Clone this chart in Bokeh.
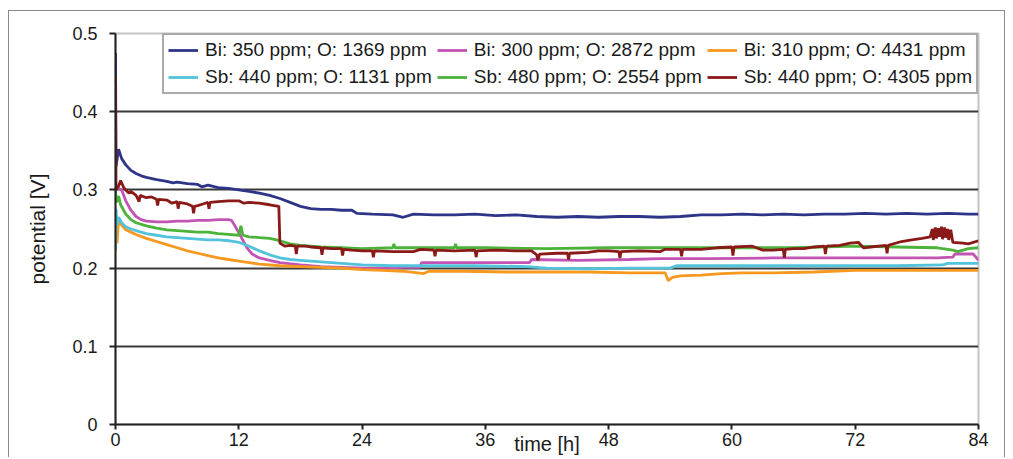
from bokeh.plotting import figure
from bokeh.models import (Range1d, FixedTicker, Legend, LegendItem, ColumnDataSource)
from bokeh.embed import file_html
from bokeh.resources import INLINE

# ---------------- data ----------------
x_ticks = [0, 12, 24, 36, 48, 60, 72, 84]
y_ticks = [0, 0.1, 0.2, 0.3, 0.4, 0.5]
y_tick_labels = ["0", "0.1", "0.2", "0.3", "0.4", "0.5"]

labels = ["Bi: 350 ppm; O: 1369 ppm", "Bi: 300 ppm; O: 2872 ppm", "Bi: 310 ppm; O: 4431 ppm",
          "Sb: 440 ppm; O: 1131 ppm", "Sb: 480 ppm; O: 2554 ppm", "Sb: 440 ppm; O: 4305 ppm"]
colors = ["#2e3588", "#c254b4", "#f7981f", "#52c3da", "#4bb33a", "#8a1a17"]

bi350_t = [0, 0.05, 0.3, 0.6, 1.0, 1.5, 2, 2.5, 3, 4, 5, 5.6, 6, 7, 8, 8.4, 9, 10, 11, 12, 13, 14, 15,
           16, 17, 18, 19, 20, 21, 22, 23, 23.5, 25, 27, 28, 29, 31, 33, 35, 37, 39, 41, 43, 45, 47, 49,
           51, 53, 55, 57, 59, 61, 63, 65, 67, 69, 71, 73, 75, 77, 79, 81, 83, 84]
bi350_v = [0.475, 0.33, 0.352, 0.340, 0.332, 0.325, 0.321, 0.318, 0.316, 0.313, 0.311, 0.309, 0.310,
           0.308, 0.307, 0.304, 0.306, 0.303, 0.302, 0.300, 0.298, 0.296, 0.293, 0.289, 0.284, 0.279,
           0.276, 0.275, 0.275, 0.274, 0.274, 0.270, 0.269, 0.268, 0.265, 0.269, 0.268, 0.268, 0.269,
           0.267, 0.268, 0.266, 0.265, 0.266, 0.265, 0.266, 0.266, 0.265, 0.266, 0.268, 0.268, 0.269,
           0.268, 0.269, 0.268, 0.269, 0.269, 0.270, 0.269, 0.270, 0.269, 0.270, 0.269, 0.269]

bi300_t = [0.3, 0.6, 1, 1.5, 2, 2.5, 3, 4, 5, 6, 7, 8, 9, 10, 11, 11.3, 11.8, 12.3, 12.8, 13.3, 14, 15,
           16, 18, 20, 22, 24, 26, 28, 29.6, 29.8, 33, 36, 40.3, 40.5, 45, 50, 53, 58, 64, 70, 76, 80,
           81.5, 81.7, 83.5, 84]
bi300_v = [0.302, 0.300, 0.286, 0.274, 0.266, 0.262, 0.260, 0.259, 0.259, 0.260, 0.260, 0.261, 0.261,
           0.262, 0.262, 0.261, 0.250, 0.238, 0.226, 0.218, 0.213, 0.210, 0.207, 0.204, 0.202, 0.201,
           0.200, 0.200, 0.201, 0.201, 0.207, 0.207, 0.207, 0.207, 0.211, 0.210, 0.211, 0.212, 0.212,
           0.213, 0.213, 0.213, 0.213, 0.214, 0.218, 0.218, 0.210]

bi310_t = [0, 0.05, 0.15, 0.3, 0.6, 1, 1.5, 2, 3, 4, 5, 6, 7, 8, 9, 10, 11, 12, 13, 14, 16, 18, 20, 22,
           24, 26, 28, 30, 30.5, 34, 38, 42, 46, 50, 53.5, 53.8, 54.2, 55, 57, 59, 61, 64, 68, 72, 76,
           80, 84]
bi310_v = [0.222, 0.245, 0.232, 0.261, 0.255, 0.249, 0.246, 0.243, 0.238, 0.234, 0.230, 0.226, 0.222,
           0.219, 0.216, 0.213, 0.211, 0.209, 0.207, 0.205, 0.203, 0.202, 0.201, 0.200, 0.198, 0.197,
           0.196, 0.193, 0.196, 0.196, 0.195, 0.195, 0.195, 0.194, 0.194, 0.184, 0.188, 0.190, 0.191,
           0.193, 0.194, 0.194, 0.195, 0.197, 0.197, 0.197, 0.197]

sb440a_t = [0, 0.05, 0.15, 0.3, 0.6, 1, 1.5, 2, 3, 4, 5, 6, 7, 8, 9, 10, 11, 12, 13, 14, 15, 16, 17, 18,
            20, 22, 24, 27, 30, 35, 40, 42, 46, 50, 54, 54.6, 58, 64, 70, 76, 80.5, 81, 84]
sb440a_v = [0.225, 0.276, 0.255, 0.265, 0.258, 0.253, 0.250, 0.248, 0.244, 0.242, 0.240, 0.239, 0.238,
            0.237, 0.236, 0.236, 0.235, 0.233, 0.228, 0.222, 0.217, 0.213, 0.211, 0.210, 0.208, 0.206,
            0.204, 0.203, 0.203, 0.203, 0.202, 0.200, 0.199, 0.200, 0.200, 0.203, 0.203, 0.203, 0.203,
            0.203, 0.204, 0.206, 0.206]

sb480_t = [0, 0.1, 0.3, 0.5, 1, 1.5, 2, 3, 4, 5, 6, 7, 8, 9, 10, 11, 12, 12.2, 12.4, 13, 14, 15, 16, 17,
           18, 20, 22, 24, 27, 27.1, 27.2, 30, 33, 33.1, 33.2, 36, 42, 48, 54, 60, 66, 72, 76, 80, 81.5,
           82, 83, 84]
sb480_v = [0.300, 0.284, 0.292, 0.281, 0.269, 0.262, 0.258, 0.254, 0.251, 0.249, 0.248, 0.247, 0.246,
           0.246, 0.244, 0.243, 0.242, 0.254, 0.242, 0.240, 0.239, 0.238, 0.235, 0.231, 0.229, 0.227,
           0.226, 0.225, 0.226, 0.231, 0.226, 0.226, 0.226, 0.231, 0.226, 0.226, 0.225, 0.226, 0.226,
           0.226, 0.226, 0.228, 0.227, 0.226, 0.223, 0.221, 0.225, 0.226]

sb440b_t = [0, 0.05, 0.3, 0.5, 0.8, 1, 1.3, 1.5, 2, 2.3, 2.4, 3, 3.5, 4, 4.1, 4.2, 5, 5.5, 6, 6.1, 6.2,
            7, 7.5, 7.6, 7.7, 8, 8.5, 9, 9.1, 9.2, 10, 11, 12, 12.5, 13, 14, 15, 15.9, 16.0, 16.5, 17,
            17.5, 17.6, 17.7, 18.5, 19, 20, 20.1, 20.2, 21, 22, 22.1, 22.2, 23, 24, 25, 25.1, 25.2, 27,
            29, 29.7, 31, 31.1, 31.2, 33, 35, 35.1, 35.2, 37, 39, 40.5, 41, 41.1, 41.3, 43, 44, 44.1,
            44.2, 46, 47, 48, 49, 49.1, 49.2, 51, 53, 53.5, 55, 55.1, 55.2, 57, 58.5, 60, 60.1, 60.2,
            62, 63, 64, 65, 65.1, 65.2, 66, 67, 68, 69, 69.1, 69.2, 70.5, 71.5, 72.3, 72.8, 73.5, 75,
            75.1, 75.2, 76.5, 77.5, 78.5, 79.3, 79.5, 79.6, 79.8, 79.9, 80.1, 80.2, 80.4, 80.5, 80.7,
            80.8, 81.0, 81.1, 81.3, 81.5, 82.5, 83, 84]
sb440b_v = [0.445, 0.300, 0.305, 0.312, 0.303, 0.300, 0.296, 0.298, 0.293, 0.285, 0.293, 0.290, 0.291,
            0.288, 0.280, 0.288, 0.287, 0.283, 0.285, 0.276, 0.284, 0.282, 0.279, 0.270, 0.279, 0.280,
            0.282, 0.284, 0.276, 0.284, 0.285, 0.286, 0.286, 0.283, 0.284, 0.283, 0.281, 0.279, 0.232,
            0.228, 0.229, 0.228, 0.218, 0.228, 0.228, 0.227, 0.226, 0.217, 0.226, 0.225, 0.225, 0.216,
            0.224, 0.223, 0.222, 0.222, 0.214, 0.222, 0.221, 0.221, 0.224, 0.223, 0.215, 0.223, 0.222,
            0.223, 0.214, 0.222, 0.223, 0.222, 0.222, 0.217, 0.210, 0.218, 0.219, 0.219, 0.211, 0.219,
            0.220, 0.222, 0.222, 0.221, 0.213, 0.221, 0.222, 0.221, 0.224, 0.224, 0.215, 0.224, 0.224,
            0.226, 0.227, 0.216, 0.227, 0.228, 0.223, 0.223, 0.224, 0.213, 0.224, 0.225, 0.225, 0.227,
            0.228, 0.218, 0.228, 0.229, 0.232, 0.233, 0.226, 0.227, 0.229, 0.219, 0.229, 0.234, 0.236,
            0.238, 0.240, 0.250, 0.236, 0.252, 0.238, 0.251, 0.240, 0.253, 0.237, 0.252, 0.239, 0.250,
            0.236, 0.249, 0.233, 0.232, 0.231, 0.235, 0.234]

series_t = [bi350_t, bi300_t, bi310_t, sb440a_t, sb480_t, sb440b_t]
series_v = [bi350_v, bi300_v, bi310_v, sb440a_v, sb480_v, sb440b_v]

FONT = "Liberation Sans"

p = figure(width=997, height=447, output_backend="svg", toolbar_location=None,
           x_range=Range1d(0, 84), y_range=Range1d(0, 0.5),
           min_border_left=106, min_border_right=28, min_border_top=22, min_border_bottom=34)
p.styles = {"margin-left": "8px", "margin-top": "10px",
            "border-left": "1px solid #8a8a8a", "border-top": "1px solid #8a8a8a",
            "border-right": "1px solid #8a8a8a"}
p.background_fill_color = "white"
p.border_fill_color = "white"
p.outline_line_color = "#c4c4c4"
p.outline_line_width = 2

# grid
p.xgrid.visible = False
p.ygrid.ticker = FixedTicker(ticks=[0.1, 0.2, 0.3, 0.4])
p.ygrid.grid_line_color = "#3a3a3a"
p.ygrid.grid_line_width = 2

# axes
p.xaxis.ticker = FixedTicker(ticks=x_ticks)
p.yaxis.ticker = FixedTicker(ticks=y_ticks)
p.yaxis.major_label_overrides = {t: l for t, l in zip(y_ticks, y_tick_labels)}
for ax in (p.xaxis[0], p.yaxis[0]):
    ax.axis_line_color = "#222222"
    ax.axis_line_width = 2
    ax.major_tick_line_color = "#222222"
    ax.major_tick_line_width = 2
    ax.major_tick_in = 0
    ax.minor_tick_line_color = None
    ax.major_label_text_font = FONT
    ax.major_label_text_font_size = "18px"
    ax.major_label_text_color = "#1a1a1a"
    ax.axis_label_text_font = FONT
    ax.axis_label_text_font_size = "20px"
    ax.axis_label_text_font_style = "normal"
    ax.axis_label_text_color = "#1a1a1a"
p.yaxis.axis_label_text_font_size = "21px"
p.yaxis.major_tick_out = 6
p.xaxis.major_tick_out = 5
p.yaxis.major_label_standoff = 12
p.xaxis.major_label_standoff = 3
p.yaxis.axis_label = "potential [V]"
p.yaxis.axis_label_standoff = 20
p.xaxis.axis_label = "time [h]"
p.xaxis.axis_label_standoff = -16

renderers = []
for t, v, c in zip(series_t, series_v, colors):
    src = ColumnDataSource(dict(t=t, v=v))
    r = p.line("t", "v", source=src, line_color=c, line_width=2.8)
    renderers.append(r)

items = [LegendItem(label=l, renderers=[r]) for l, r in zip(labels, renderers)]
legend = Legend(items=items, orientation="horizontal", ncols=3, location="top_right",
                margin=0, padding=4, spacing=5, glyph_width=30, glyph_height=20,
                label_standoff=7, label_width=225,
                label_text_font=FONT, label_text_font_size="19px", label_text_color="#1a1a1a",
                border_line_color="#555555", border_line_width=2,
                background_fill_color="white", background_fill_alpha=1.0)
p.add_layout(legend, "center")

open("out.html", "w").write(file_html(p, INLINE))
